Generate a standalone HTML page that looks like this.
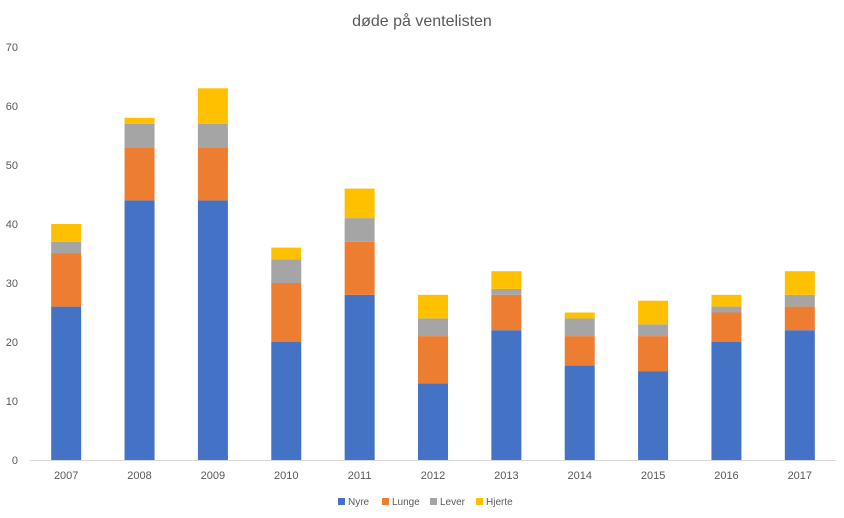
<!DOCTYPE html>
<html><head><meta charset="utf-8"><style>
body{margin:0;background:#fff;}
svg{display:block;font-family:"Liberation Sans",sans-serif;}
</style></head><body>
<svg id="chart" width="844" height="518">
<text x="422" y="26" text-anchor="middle" font-size="16" fill="#595959">døde på ventelisten</text>
<g id="yaxis"></g><g id="bars"></g><g id="xaxis"></g>
<g id="legend"></g>
</svg>
<script>
const categories=["2007","2008","2009","2010","2011","2012","2013","2014","2015","2016","2017"];
const nyre=[26,44,44,20,28,13,22,16,15,20,22];
const lunge=[9,9,9,10,9,8,6,5,6,5,4];
const lever=[2,4,4,4,4,3,1,3,2,1,2];
const hjerte=[3,1,6,2,5,4,3,1,4,2,4];
const yTicks=[0,10,20,30,40,50,60,70];
const seriesNames=["Nyre","Lunge","Lever","Hjerte"];
const colors=["#4472c4","#ed7d31","#a5a5a5","#ffc000"];
const NS="http://www.w3.org/2000/svg";
const svg=document.getElementById('chart');
const x0=29.5,x1=836.5,yBase=460,yTop=47,yMax=70;
const step=(x1-x0)/categories.length;
const y=v=>yBase-(v/yMax)*(yBase-yTop);
const xc=i=>x0+step*(i+0.5);
function mk(tag,attrs,parent){const e=document.createElementNS(NS,tag);for(const k in attrs)e.setAttribute(k,attrs[k]);parent.appendChild(e);return e;}
const ya=document.getElementById('yaxis');
yTicks.forEach(t=>{const e=mk('text',{x:18,y:y(t)+4,'text-anchor':'end','font-size':11,fill:'#595959'},ya);e.textContent=t;

});
const series=[nyre,lunge,lever,hjerte];
const bg=document.getElementById('bars');
categories.forEach((c,i)=>{let acc=0;series.forEach((s,j)=>{const r=mk('rect',{x:xc(i)-15,width:30,y:y(acc+s[i]),height:y(acc)-y(acc+s[i]),fill:colors[j]},bg);


acc+=s[i];});});
const xa=document.getElementById('xaxis');
const ln=mk('line',{x1:x0,x2:x1,y1:yBase+0.5,y2:yBase+0.5,stroke:'#d9d9d9'},xa);


categories.forEach((c,i)=>{const e=mk('text',{x:xc(i),y:479,'text-anchor':'middle','font-size':11,fill:'#595959'},xa);e.textContent=c;

});
const lg=document.getElementById('legend');
const lx=[338,382,430,476];
seriesNames.forEach((n,j)=>{const g=mk('g',{},lg);


mk('rect',{x:lx[j],y:498,width:7,height:7,fill:colors[j]},g);
const t=mk('text',{x:lx[j]+10,y:505,'font-size':10,fill:'#595959'},g);t.textContent=n;});
</script>
</body></html>
